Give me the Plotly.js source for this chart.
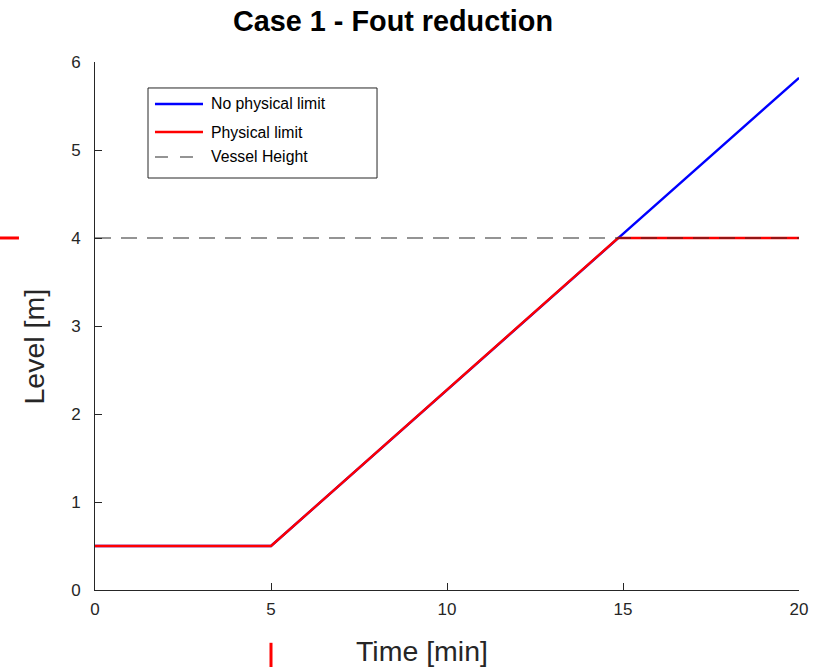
<!DOCTYPE html>
<html><head><meta charset="utf-8">
<script src="https://cdn.plot.ly/plotly-3.0.1.min.js"></script>
<style>html,body{margin:0;padding:0;background:#fff}#plot{width:815px;height:667px}</style>
</head><body><div id="plot"></div>
<script>
const timeNoLimit = [0, 5, 20];
const levelNoLimit = [0.5, 0.5, 5.82];
const timeLimit = [0, 5, 14.86, 20];
const levelLimit = [0.5, 0.5, 4, 4];
const timeVessel = [0, 20];
const levelVessel = [4, 4];
const xTicks = [0, 5, 10, 15, 20];
const yTicks = [0, 1, 2, 3, 4, 5, 6];
const seriesNames = ['No physical limit', 'Physical limit', 'Vessel Height'];
const seriesColors = ['#0000ff', '#ff0000', '#2a2a2a'];

const traces = [
  {x: timeNoLimit, y: levelNoLimit, mode: 'lines', name: seriesNames[0], line: {color: seriesColors[0], width: 2.4}},
  {x: timeLimit, y: levelLimit, mode: 'lines', name: seriesNames[1], line: {color: seriesColors[1], width: 2.4}},
  {x: timeVessel, y: levelVessel, mode: 'lines', name: seriesNames[2], line: {color: seriesColors[2], width: 1.2, dash: '16px,10px'}}
];
const font = "Liberation Sans, Arial, sans-serif";

// manual legend (paper coordinates)
const legRows = [0.9205, 0.8674, 0.8201];
const legShapes = [
  {type: 'rect', xref: 'paper', yref: 'paper', x0: 0.0753, x1: 0.4006, y0: 0.7803, y1: 0.9508, line: {color: '#262626', width: 1}, fillcolor: '#fff', layer: 'above'}
];
const legAnn = [];
seriesNames.forEach((n, i) => {
  legShapes.push({type: 'line', xref: 'paper', yref: 'paper', x0: 0.0852, x1: 0.1534, y0: legRows[i], y1: legRows[i],
    line: {color: seriesColors[i], width: i < 2 ? 2.4 : 1.2, dash: i < 2 ? 'solid' : '13px,12px'}, layer: 'above'});
  legAnn.push({text: n, xref: 'paper', yref: 'paper', x: 0.1619, y: legRows[i], xanchor: 'left', yanchor: 'middle', showarrow: false,
    font: {size: 15.8, color: '#000', family: font}});
});

const layout = {
  width: 815, height: 667,
  margin: {l: 95, r: 16, t: 62, b: 77},
  paper_bgcolor: '#fff', plot_bgcolor: '#fff',
  font: {family: font, color: '#262626', size: 17},
  showlegend: false,
  xaxis: {range: [0, 20], tickvals: xTicks, ticktext: xTicks.map(String), ticks: 'inside', ticklen: 7, tickcolor: '#262626',
    showline: true, linecolor: '#262626', linewidth: 1, showgrid: false, zeroline: false, tickfont: {size: 17, color: '#262626'}, ticklabelstandoff: 4, fixedrange: true},
  yaxis: {range: [0, 6], tickvals: yTicks, ticktext: yTicks.map(String), ticks: 'inside', ticklen: 7, tickcolor: '#262626',
    showline: true, linecolor: '#262626', linewidth: 1, showgrid: false, zeroline: false, tickfont: {size: 17, color: '#262626'}, ticklabelstandoff: 10, fixedrange: true},
  annotations: [
    {text: '<b>Case 1 - Fout reduction</b>', xref: 'paper', yref: 'paper', x: 0.4233, y: 1, yshift: 41, xanchor: 'center', yanchor: 'middle', showarrow: false, font: {size: 28.8, color: '#000', family: font}},
    {text: 'Time [min]', xref: 'paper', yref: 'paper', x: 0.4645, y: 0, yshift: -61, xanchor: 'center', yanchor: 'middle', showarrow: false, font: {size: 28.5, color: '#262626', family: font}},
    {text: 'Level [m]', xref: 'paper', yref: 'paper', x: 0, xshift: -61, y: 0.4612, xanchor: 'center', yanchor: 'middle', textangle: -90, showarrow: false, font: {size: 28.5, color: '#262626', family: font}}
  ].concat(legAnn),
  shapes: [
    {type: 'line', xref: 'paper', yref: 'paper', x0: -0.135, x1: -0.108, y0: 0.6667, y1: 0.6667, line: {color: '#ff0000', width: 3}},
    {type: 'line', xref: 'x', yref: 'paper', x0: 5, x1: 5, y0: -0.1, y1: -0.15, line: {color: '#ff0000', width: 3}}
  ].concat(legShapes)
};
Plotly.newPlot('plot', traces, layout, {displayModeBar: false, staticPlot: true});
</script></body></html>
